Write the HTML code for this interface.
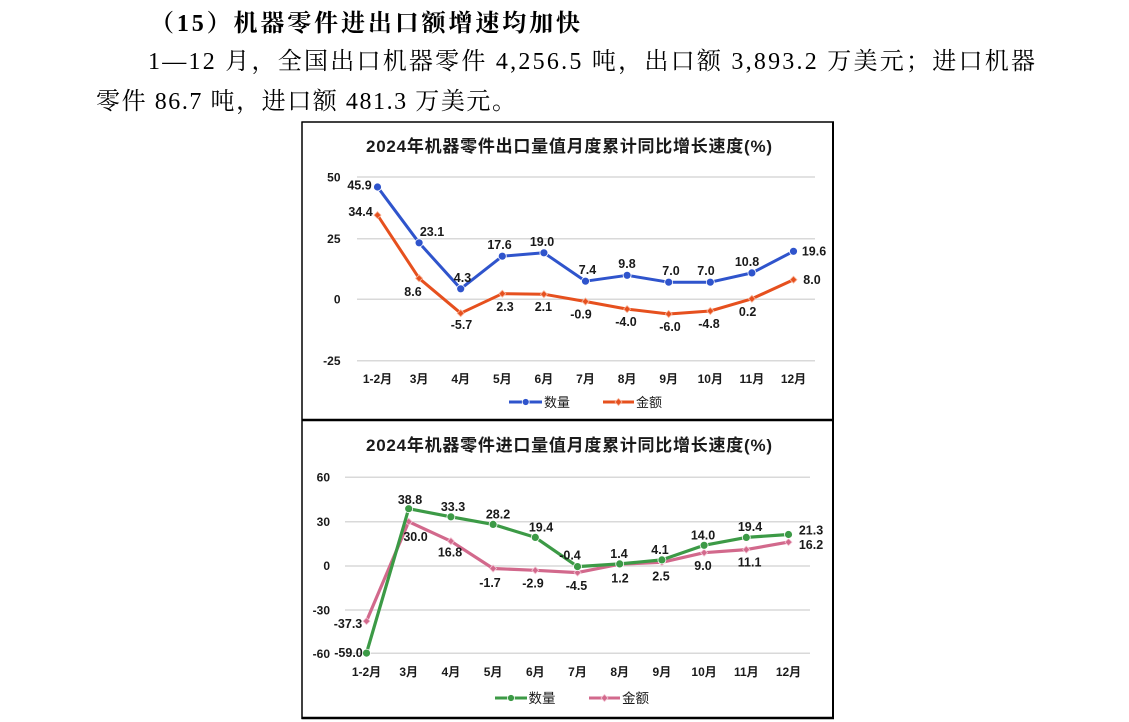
<!DOCTYPE html>
<html>
<head>
<meta charset="utf-8">
<style>
  html,body{margin:0;padding:0;background:#fff;}
  svg{display:block;}
  .serif{font-family:"Liberation Serif","Noto Serif CJK SC",serif;fill:#000;}
  .sans{font-family:"Liberation Sans","Noto Sans CJK SC",sans-serif;fill:#1a1a1a;}
  .lbl{font-family:"Liberation Sans","Noto Sans CJK SC",sans-serif;font-size:12.5px;font-weight:bold;fill:#1a1a1a;}
  .tick{font-family:"Liberation Sans","Noto Sans CJK SC",sans-serif;font-size:12px;font-weight:bold;fill:#1a1a1a;}
  .cat{font-family:"Liberation Sans","Noto Sans CJK SC",sans-serif;font-size:12px;font-weight:bold;fill:#1a1a1a;}
  .grid{stroke:#d9d9d9;stroke-width:1.5;}
</style>
</head>
<body>
<svg width="1129" height="722" viewBox="0 0 1129 722" xmlns="http://www.w3.org/2000/svg">
  <rect width="1129" height="722" fill="#fff"/>

  <!-- Top text -->
  <text class="serif" x="150" y="31" font-size="24" font-weight="bold" textLength="430" lengthAdjust="spacing">（15）机器零件进出口额增速均加快</text>
  <text class="serif" x="148" y="69" font-size="24" textLength="887" lengthAdjust="spacing">1—12 月，全国出口机器零件 4,256.5 吨，出口额 3,893.2 万美元；进口机器</text>
  <text class="serif" x="96" y="109" font-size="24" textLength="420" lengthAdjust="spacing">零件 86.7 吨，进口额 481.3 万美元。</text>

  <!-- Frames -->
  <line x1="302" y1="121.5" x2="302" y2="719" stroke="#000" stroke-width="1.5"/>
  <line x1="301.5" y1="122" x2="834" y2="122" stroke="#000" stroke-width="1.5"/>
  <line x1="833" y1="121.5" x2="833" y2="719" stroke="#000" stroke-width="2"/>
  <line x1="301.5" y1="420" x2="834" y2="420" stroke="#000" stroke-width="2.5"/>
  <line x1="301.5" y1="718" x2="834" y2="718" stroke="#000" stroke-width="2.5"/>

  <!-- ================= Chart 1 ================= -->
  <text class="sans" x="366" y="152" font-size="17" font-weight="bold" textLength="406" lengthAdjust="spacing">2024年机器零件出口量值月度累计同比增长速度(%)</text>

  <line class="grid" x1="357" y1="177" x2="815" y2="177"/>
  <line class="grid" x1="357" y1="238.7" x2="815" y2="238.7"/>
  <line class="grid" x1="357" y1="299.3" x2="815" y2="299.3"/>
  <line class="grid" x1="357" y1="360.7" x2="815" y2="360.7"/>

  <text class="tick" x="340.5" y="181.5" text-anchor="end">50</text>
  <text class="tick" x="340.5" y="243" text-anchor="end">25</text>
  <text class="tick" x="340.5" y="303.5" text-anchor="end">0</text>
  <text class="tick" x="340.5" y="365" text-anchor="end">-25</text>

  <g class="cat" text-anchor="middle">
    <text x="377.5" y="383">1-2月</text>
    <text x="419.1" y="383">3月</text>
    <text x="460.7" y="383">4月</text>
    <text x="502.3" y="383">5月</text>
    <text x="543.9" y="383">6月</text>
    <text x="585.5" y="383">7月</text>
    <text x="627.1" y="383">8月</text>
    <text x="668.7" y="383">9月</text>
    <text x="710.3" y="383">10月</text>
    <text x="751.9" y="383">11月</text>
    <text x="793.5" y="383">12月</text>
  </g>

  <polyline fill="none" stroke="#E6501E" stroke-width="3" stroke-linejoin="round" stroke-linecap="round"
    points="377.5,215.1 419.1,278.3 460.7,313.2 502.3,293.7 543.9,294.2 585.5,301.5 627.1,309.1 668.7,314.0 710.3,311.0 751.9,298.8 793.5,279.7"/>
  <g fill="#E6501E" stroke="#f7b49a" stroke-width="0.8">
    <path d="M377.5,211.6 L381,215.1 L377.5,218.6 L374,215.1Z"/>
    <path d="M419.1,274.8 L422.6,278.3 L419.1,281.8 L415.6,278.3Z"/>
    <path d="M460.7,309.7 L464.2,313.2 L460.7,316.7 L457.2,313.2Z"/>
    <path d="M502.3,290.2 L505.8,293.7 L502.3,297.2 L498.8,293.7Z"/>
    <path d="M543.9,290.7 L547.4,294.2 L543.9,297.7 L540.4,294.2Z"/>
    <path d="M585.5,298.0 L589,301.5 L585.5,305.0 L582,301.5Z"/>
    <path d="M627.1,305.6 L630.6,309.1 L627.1,312.6 L623.6,309.1Z"/>
    <path d="M668.7,310.5 L672.2,314.0 L668.7,317.5 L665.2,314.0Z"/>
    <path d="M710.3,307.5 L713.8,311.0 L710.3,314.5 L706.8,311.0Z"/>
    <path d="M751.9,295.3 L755.4,298.8 L751.9,302.3 L748.4,298.8Z"/>
    <path d="M793.5,276.2 L797,279.7 L793.5,283.2 L790,279.7Z"/>
  </g>

  <polyline fill="none" stroke="#2F54CC" stroke-width="3" stroke-linejoin="round" stroke-linecap="round"
    points="377.5,187.0 419.1,242.8 460.7,288.8 502.3,256.2 543.9,252.8 585.5,281.2 627.1,275.3 668.7,282.2 710.3,282.2 751.9,272.9 793.5,251.3"/>
  <g fill="#2F54CC" stroke="#fff" stroke-width="0.8">
    <circle cx="377.5" cy="187.0" r="4"/>
    <circle cx="419.1" cy="242.8" r="4"/>
    <circle cx="460.7" cy="288.8" r="4"/>
    <circle cx="502.3" cy="256.2" r="4"/>
    <circle cx="543.9" cy="252.8" r="4"/>
    <circle cx="585.5" cy="281.2" r="4"/>
    <circle cx="627.1" cy="275.3" r="4"/>
    <circle cx="668.7" cy="282.2" r="4"/>
    <circle cx="710.3" cy="282.2" r="4"/>
    <circle cx="751.9" cy="272.9" r="4"/>
    <circle cx="793.5" cy="251.3" r="4"/>
  </g>

  <g class="lbl" text-anchor="middle">
    <text x="359.5" y="189.5">45.9</text>
    <text x="432" y="236">23.1</text>
    <text x="462.5" y="282">4.3</text>
    <text x="499.5" y="249">17.6</text>
    <text x="542" y="246">19.0</text>
    <text x="587.5" y="274">7.4</text>
    <text x="627" y="268">9.8</text>
    <text x="671" y="275">7.0</text>
    <text x="706" y="275">7.0</text>
    <text x="747" y="266">10.8</text>
    <text x="814" y="255.5">19.6</text>

    <text x="360.5" y="216">34.4</text>
    <text x="413" y="296">8.6</text>
    <text x="461.5" y="329">-5.7</text>
    <text x="505" y="311">2.3</text>
    <text x="543.4" y="311">2.1</text>
    <text x="581" y="318.5">-0.9</text>
    <text x="626" y="326">-4.0</text>
    <text x="670" y="331">-6.0</text>
    <text x="709" y="328">-4.8</text>
    <text x="747.6" y="316">0.2</text>
    <text x="812" y="284">8.0</text>
  </g>

  <line x1="509" y1="402" x2="542" y2="402" stroke="#2F54CC" stroke-width="3"/>
  <circle cx="525.7" cy="402" r="3.5" fill="#2F54CC" stroke="#fff" stroke-width="0.8"/>
  <text class="sans" x="544" y="407" font-size="13">数量</text>
  <line x1="603" y1="402" x2="634" y2="402" stroke="#E6501E" stroke-width="3"/>
  <path d="M618.5,398.5 L622,402 L618.5,405.5 L615,402Z" fill="#E6501E" stroke="#f7b49a" stroke-width="0.8"/>
  <text class="sans" x="636" y="407" font-size="13">金额</text>

  <!-- ================= Chart 2 ================= -->
  <text class="sans" x="366" y="451" font-size="17" font-weight="bold" textLength="406" lengthAdjust="spacing">2024年机器零件进口量值月度累计同比增长速度(%)</text>

  <line class="grid" x1="345" y1="477.3" x2="810" y2="477.3"/>
  <line class="grid" x1="345" y1="521.7" x2="810" y2="521.7"/>
  <line class="grid" x1="345" y1="566" x2="810" y2="566"/>
  <line class="grid" x1="345" y1="610" x2="810" y2="610"/>
  <line class="grid" x1="345" y1="653.3" x2="810" y2="653.3"/>

  <text class="tick" x="330" y="481.5" text-anchor="end">60</text>
  <text class="tick" x="330" y="526" text-anchor="end">30</text>
  <text class="tick" x="330" y="570" text-anchor="end">0</text>
  <text class="tick" x="330" y="614.5" text-anchor="end">-30</text>
  <text class="tick" x="330" y="658" text-anchor="end">-60</text>

  <g class="cat" text-anchor="middle">
    <text x="366.5" y="676">1-2月</text>
    <text x="408.7" y="676">3月</text>
    <text x="450.9" y="676">4月</text>
    <text x="493.1" y="676">5月</text>
    <text x="535.3" y="676">6月</text>
    <text x="577.5" y="676">7月</text>
    <text x="619.7" y="676">8月</text>
    <text x="661.9" y="676">9月</text>
    <text x="704.1" y="676">10月</text>
    <text x="746.3" y="676">11月</text>
    <text x="788.5" y="676">12月</text>
  </g>

  <polyline fill="none" stroke="#D2698C" stroke-width="3.2" stroke-linejoin="round" stroke-linecap="round"
    points="366.5,621.1 408.7,521.7 450.9,541.2 493.1,568.5 535.3,570.3 577.5,572.6 619.7,564.2 661.9,562.3 704.1,552.7 746.3,549.6 788.5,542.1"/>
  <g fill="#D2698C" stroke="#f2c3d3" stroke-width="0.8">
    <path d="M366.5,617.6 L370,621.1 L366.5,624.6 L363,621.1Z"/>
    <path d="M408.7,518.2 L412.2,521.7 L408.7,525.2 L405.2,521.7Z"/>
    <path d="M450.9,537.7 L454.4,541.2 L450.9,544.7 L447.4,541.2Z"/>
    <path d="M493.1,565.0 L496.6,568.5 L493.1,572.0 L489.6,568.5Z"/>
    <path d="M535.3,566.8 L538.8,570.3 L535.3,573.8 L531.8,570.3Z"/>
    <path d="M577.5,569.1 L581,572.6 L577.5,576.1 L574,572.6Z"/>
    <path d="M619.7,560.7 L623.2,564.2 L619.7,567.7 L616.2,564.2Z"/>
    <path d="M661.9,558.8 L665.4,562.3 L661.9,565.8 L658.4,562.3Z"/>
    <path d="M704.1,549.2 L707.6,552.7 L704.1,556.2 L700.6,552.7Z"/>
    <path d="M746.3,546.1 L749.8,549.6 L746.3,553.1 L742.8,549.6Z"/>
    <path d="M788.5,538.6 L792,542.1 L788.5,545.6 L785,542.1Z"/>
  </g>

  <polyline fill="none" stroke="#3C9A46" stroke-width="3.2" stroke-linejoin="round" stroke-linecap="round"
    points="366.5,653.1 408.7,508.7 450.9,516.8 493.1,524.4 535.3,537.4 577.5,566.6 619.7,563.9 661.9,559.9 704.1,545.3 746.3,537.4 788.5,534.5"/>
  <g fill="#3C9A46" stroke="#fff" stroke-width="0.8">
    <circle cx="366.5" cy="653.1" r="4"/>
    <circle cx="408.7" cy="508.7" r="4"/>
    <circle cx="450.9" cy="516.8" r="4"/>
    <circle cx="493.1" cy="524.4" r="4"/>
    <circle cx="535.3" cy="537.4" r="4"/>
    <circle cx="577.5" cy="566.6" r="4"/>
    <circle cx="619.7" cy="563.9" r="4"/>
    <circle cx="661.9" cy="559.9" r="4"/>
    <circle cx="704.1" cy="545.3" r="4"/>
    <circle cx="746.3" cy="537.4" r="4"/>
    <circle cx="788.5" cy="534.5" r="4"/>
  </g>

  <g class="lbl" text-anchor="middle">
    <text x="348.5" y="657">-59.0</text>
    <text x="410" y="503.8">38.8</text>
    <text x="453" y="511">33.3</text>
    <text x="498" y="518.5">28.2</text>
    <text x="541" y="531.5">19.4</text>
    <text x="570" y="559.5">-0.4</text>
    <text x="619" y="558">1.4</text>
    <text x="660" y="554">4.1</text>
    <text x="703" y="539.5">14.0</text>
    <text x="750" y="531">19.4</text>
    <text x="811" y="534.5">21.3</text>

    <text x="348" y="627.8">-37.3</text>
    <text x="415.5" y="541">30.0</text>
    <text x="450" y="556.5">16.8</text>
    <text x="490" y="587">-1.7</text>
    <text x="533" y="587.5">-2.9</text>
    <text x="576.5" y="590">-4.5</text>
    <text x="620" y="582.5">1.2</text>
    <text x="661" y="580.5">2.5</text>
    <text x="703" y="570">9.0</text>
    <text x="749.6" y="566.5">11.1</text>
    <text x="811" y="549">16.2</text>
  </g>

  <line x1="495" y1="698" x2="527" y2="698" stroke="#3C9A46" stroke-width="3"/>
  <circle cx="511" cy="698" r="3.5" fill="#3C9A46" stroke="#fff" stroke-width="0.8"/>
  <text class="sans" x="528.5" y="703" font-size="13.5">数量</text>
  <line x1="589" y1="698" x2="620" y2="698" stroke="#D2698C" stroke-width="3"/>
  <path d="M604.5,694.5 L608,698 L604.5,701.5 L601,698Z" fill="#D2698C" stroke="#f2c3d3" stroke-width="0.8"/>
  <text class="sans" x="622" y="703" font-size="13.5">金额</text>
</svg>
</body>
</html>
